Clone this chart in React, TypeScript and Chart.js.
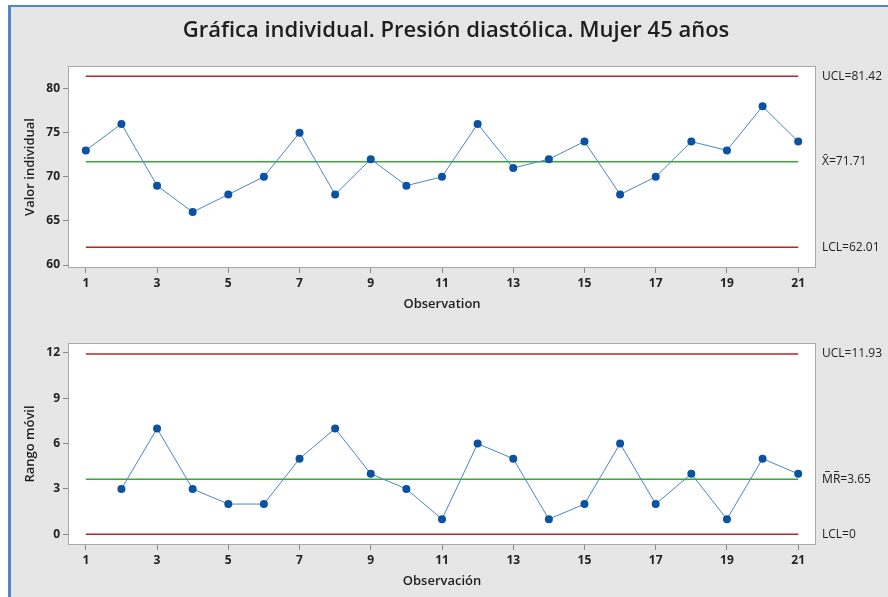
import React, { useEffect, useRef } from "react";
import { Chart, registerables } from "chart.js";

Chart.register(...registerables);

const TITLE = "Gráfica individual. Presión diastólica. Mujer 45 años";
const observations = [1, 2, 3, 4, 5, 6, 7, 8, 9, 10, 11, 12, 13, 14, 15, 16, 17, 18, 19, 20, 21];
const individualValues = [73, 76, 69, 66, 68, 70, 75, 68, 72, 69, 70, 76, 71, 72, 74, 68, 70, 74, 73, 78, 74];
const movingRangeObs = [2, 3, 4, 5, 6, 7, 8, 9, 10, 11, 12, 13, 14, 15, 16, 17, 18, 19, 20, 21];
const movingRangeValues = [3, 7, 3, 2, 2, 5, 7, 4, 3, 1, 6, 5, 1, 2, 6, 2, 4, 1, 5, 4];
const xTickLabels = [1, 3, 5, 7, 9, 11, 13, 15, 17, 19, 21];
const iTickLabels = [60, 65, 70, 75, 80];
const mrTickLabels = [0, 3, 6, 9, 12];
const iLimits = { ucl: 81.42, center: 71.71, lcl: 62.01 };
const mrLimits = { ucl: 11.93, center: 3.65, lcl: 0 };
const iLabels = ["UCL=81.42", "X\u0304=71.71", "LCL=62.01"];
const mrLabels = ["UCL=11.93", "M\u0305R\u0305=3.65", "LCL=0"];

const FONT = "'Open Sans', 'Noto Sans', sans-serif";

function makeChart(
  canvas: HTMLCanvasElement,
  xs: number[],
  ys: number[],
  limits: { ucl: number; center: number; lcl: number },
  limitLabels: string[],
  yTicks: number[],
  yMin: number,
  yMax: number,
  yTitle: string,
  xTitle: string,
  padTop: number,
  title: string | null
) {
  const pts = xs.map((x, i) => ({ x, y: ys[i] }));
  const first = observations[0];
  const last = observations[observations.length - 1];
  const lineData = (v: number) => [
    { x: first, y: v },
    { x: last, y: v },
  ];
  const textPlugin = {
    id: "texts",
    beforeDraw(chart: any) {
      const { ctx, chartArea } = chart;
      ctx.save();
      ctx.fillStyle = "#ffffff";
      ctx.fillRect(chartArea.left, chartArea.top, chartArea.right - chartArea.left, chartArea.bottom - chartArea.top);
      ctx.restore();
    },
    afterDraw(chart: any) {
      const { ctx, chartArea, scales } = chart;
      ctx.save();
      ctx.strokeStyle = "#a8a8a8";
      ctx.lineWidth = 1;
      ctx.strokeRect(
        Math.round(chartArea.left) + 0.5,
        Math.round(chartArea.top) + 0.5,
        Math.round(chartArea.right - chartArea.left) - 1,
        Math.round(chartArea.bottom - chartArea.top) - 1
      );
      ctx.fillStyle = "#1e1e1e";
      ctx.textBaseline = "middle";
      if (title) {
        ctx.font = `600 22px ${FONT}`;
        ctx.textAlign = "center";
        ctx.fillText(title, 456, 31);
      }
      ctx.font = `12px ${FONT}`;
      ctx.textAlign = "left";
      const vals = [limits.ucl, limits.center, limits.lcl];
      vals.forEach((v, i) => {
        ctx.fillText(limitLabels[i], chartArea.right + 6, scales.y.getPixelForValue(v));
      });
      ctx.font = `600 13px ${FONT}`;
      ctx.textAlign = "center";
      ctx.fillText(xTitle, (chartArea.left + chartArea.right) / 2, chartArea.bottom + 36);
      ctx.translate(30, (chartArea.top + chartArea.bottom) / 2);
      ctx.rotate(-Math.PI / 2);
      ctx.fillText(yTitle, 0, 0);
      ctx.restore();
    },
  };

  return new Chart(canvas, {
    type: "line",
    data: {
      datasets: [
        {
          data: pts,
          borderColor: "#4a86c8",
          borderWidth: 1,
          pointRadius: 4,
          pointBackgroundColor: "#0b52a3",
          pointBorderColor: "#0b52a3",
          pointBorderWidth: 0,
          tension: 0,
        },
        { data: lineData(limits.center), borderColor: "#3ca63c", borderWidth: 1.5, pointRadius: 0 },
        { data: lineData(limits.ucl), borderColor: "#b3262a", borderWidth: 1.5, pointRadius: 0 },
        { data: lineData(limits.lcl), borderColor: "#b3262a", borderWidth: 1.5, pointRadius: 0 },
      ],
    },
    options: {
      animation: false,
      responsive: false,
      maintainAspectRatio: false,
      layout: { padding: { left: 0, right: 72, top: padTop, bottom: 0 } },
      plugins: { legend: { display: false }, tooltip: { enabled: false }, title: { display: false } },
      scales: {
        x: {
          type: "linear",
          min: 0.5,
          max: 21.5,
          afterBuildTicks: (s: any) => {
            s.ticks = xTickLabels.map((v) => ({ value: v }));
          },
          afterFit: (s: any) => {
            s.height = 52;
          },
          border: { display: false },
          grid: { display: true, drawOnChartArea: false, drawTicks: true, tickLength: 5, color: "#888888" },
          ticks: { padding: 3, color: "#222222", font: { family: FONT, size: 12, weight: "bold" }, maxRotation: 0, autoSkip: false },
        },
        y: {
          type: "linear",
          min: yMin,
          max: yMax,
          afterBuildTicks: (s: any) => {
            s.ticks = yTicks.map((v) => ({ value: v }));
          },
          afterFit: (s: any) => {
            s.width = 68;
          },
          border: { display: false },
          grid: { display: true, drawOnChartArea: false, drawTicks: true, tickLength: 5, color: "#888888" },
          ticks: { padding: 3, color: "#222222", font: { family: FONT, size: 12, weight: "bold" } },
        },
      },
    },
    plugins: [textPlugin],
  } as any);
}

export default function App() {
  const c1 = useRef<HTMLCanvasElement>(null);
  const c2 = useRef<HTMLCanvasElement>(null);
  useEffect(() => {
    document.body.style.margin = "0";
    const ch1 = makeChart(c1.current!, observations, individualValues, iLimits, iLabels, iTickLabels, 59.66, 82.57, "Valor individual", "Observation", 66, TITLE);
    const ch2 = makeChart(c2.current!, movingRangeObs, movingRangeValues, mrLimits, mrLabels, mrTickLabels, -0.71, 12.66, "Rango móvil", "Observación", 23, null);
    return () => {
      ch1.destroy();
      ch2.destroy();
    };
  }, []);
  return (
    <div style={{ position: "relative", width: 888, height: 597, background: "#ffffff", overflow: "hidden" }}>
      <div
        style={{
          position: "absolute",
          left: 8,
          top: 5,
          width: 880,
          height: 592,
          background: "#e6e6e6",
          borderLeft: "3px solid #4f86c9",
          borderTop: "2px solid #4f86c9",
          boxSizing: "border-box",
        }}
      />
      <canvas ref={c1} width={888} height={320} style={{ position: "absolute", left: 0, top: 0, width: 888, height: 320 }} />
      <canvas ref={c2} width={888} height={277} style={{ position: "absolute", left: 0, top: 320, width: 888, height: 277 }} />
    </div>
  );
}
